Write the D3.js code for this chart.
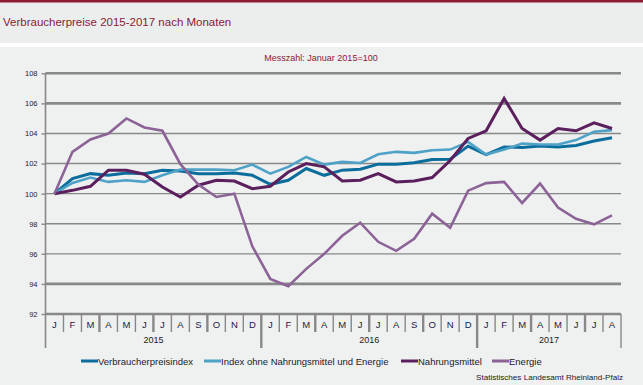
<!DOCTYPE html>
<html><head><meta charset="utf-8">
<script src="https://cdn.jsdelivr.net/npm/d3@7"></script>
<style>
html,body{margin:0;padding:0;background:#fff;}
svg{display:block;font-family:"Liberation Sans",Arial,sans-serif;}
</style></head>
<body>
<svg id="c" width="643" height="385"></svg>
<script>
const monthLabels = ["J","F","M","A","M","J","J","A","S","O","N","D","J","F","M","A","M","J","J","A","S","O","N","D","J","F","M","A","M","J","J","A"];
const years = ["2015","2016","2017"];
const yearMonths = [12, 12, 8];
const yTicks = [92,94,96,98,100,102,104,106,108];
const seriesNames = ["Verbraucherpreisindex","Index ohne Nahrungsmittel und Energie","Nahrungsmittel","Energie"];
const vpi = [100,101.0,101.33,101.22,101.38,101.33,101.56,101.5,101.33,101.33,101.38,101.22,100.62,100.89,101.67,101.22,101.56,101.62,101.96,101.96,102.05,102.27,102.29,103.16,102.6,103.1,103.07,103.16,103.1,103.2,103.5,103.71];
const ohne = [100,100.71,101.07,100.78,100.89,100.78,101.22,101.6,101.6,101.6,101.56,101.93,101.33,101.78,102.44,101.93,102.11,102.04,102.62,102.78,102.71,102.89,102.93,103.44,102.6,102.93,103.33,103.27,103.27,103.56,104.11,104.22];
const nahrung = [100,100.22,100.49,101.56,101.56,101.29,100.44,99.78,100.56,100.89,100.84,100.33,100.49,101.44,102.0,101.78,100.84,100.89,101.33,100.78,100.84,101.07,102.2,103.67,104.18,106.33,104.33,103.56,104.33,104.18,104.71,104.33];
const energie = [100,102.78,103.6,104.0,105.0,104.4,104.18,101.96,100.6,99.78,100.0,96.5,94.33,93.85,95.0,96.0,97.2,98.07,96.8,96.2,97.0,98.67,97.73,100.2,100.7,100.78,99.38,100.67,99.07,98.33,97.96,98.56];

const colors = ["#0b6d9c","#4ea1c7","#5a1f5c","#8c6397"];
const widths = [3,2.6,3,2.6];
const data = [vpi, ohne, nahrung, energie];

const svg = d3.select("#c");
// backgrounds
svg.append("rect").attr("x",0).attr("y",0).attr("width",643).attr("height",385).attr("fill","#fff");
svg.append("rect").attr("x",0).attr("y",0).attr("width",643).attr("height",43).attr("fill","#eceeee");
svg.append("rect").attr("x",0).attr("y",0).attr("width",643).attr("height",2.5).attr("fill","#8b1a35");
svg.append("rect").attr("x",0).attr("y",47).attr("width",643).attr("height",338).attr("fill","#eff0f0");

svg.append("text").attr("x",3).attr("y",26).attr("fill","#8b1a35").attr("font-size",11.5)
  .text("Verbraucherpreise 2015-2017 nach Monaten");
svg.append("text").attr("x",321).attr("y",61).attr("text-anchor","middle").attr("fill","#8b1a35").attr("font-size",9)
  .text("Messzahl: Januar 2015=100");

const x0 = 45.5, x1 = 621;
const y = d3.scaleLinear().domain([92,108]).range([314,73.3]);
const xb = d3.scaleBand().domain(d3.range(monthLabels.length)).range([x0,x1]).padding(0);
const xc = i => xb(i) + xb.bandwidth()/2;

// grid
const thick = new Set([108,106,94,92]);
svg.append("g").selectAll("line").data(yTicks).join("line")
  .attr("x1",x0).attr("x2",x1).attr("y1",d=>y(d)).attr("y2",d=>y(d))
  .attr("stroke","#888").attr("stroke-width",d=>thick.has(d)?2.6:1.4);

// y axis
const ya = svg.append("g").attr("transform",`translate(${x0},0)`)
  .call(d3.axisLeft(y).tickValues(yTicks).tickSize(4).tickPadding(4).tickFormat(d3.format("d")));
ya.select(".domain").remove();
ya.selectAll("line").attr("stroke","#888").attr("stroke-width",1.4);
ya.selectAll("text").attr("font-size",7.5).attr("fill","#1a1a40").attr("font-family","Liberation Sans, Arial, sans-serif");
svg.append("line").attr("x1",x0).attr("x2",x0).attr("y1",73).attr("y2",348).attr("stroke","#888").attr("stroke-width",1.6);

// month separators & labels
const seps = d3.range(1, monthLabels.length+1);
let yearStarts = [0]; yearMonths.reduce((a,b)=>{yearStarts.push(a+b); return a+b;},0);
const yearEnds = new Set(yearStarts.slice(1));
svg.append("g").selectAll("line").data(seps).join("line")
  .attr("x1",i=>xb(i-1)+xb.bandwidth()).attr("x2",i=>xb(i-1)+xb.bandwidth())
  .attr("y1",314).attr("y2",i=>yearEnds.has(i)?348:332)
  .attr("stroke","#888").attr("stroke-width",i=>(i%3===0)?2.4:1.4);
svg.append("g").selectAll("text").data(monthLabels).join("text")
  .attr("x",(d,i)=>xc(i)).attr("y",328).attr("text-anchor","middle")
  .attr("font-size",9.5).attr("fill","#1a1a4a").text(d=>d);
svg.append("g").selectAll("text").data(years).join("text")
  .attr("x",(d,i)=>{const s=yearStarts[i], e=s+yearMonths[i]; return (xb(s)+xb(e-1)+xb.bandwidth())/2;})
  .attr("y",343).attr("text-anchor","middle").attr("font-size",9).attr("fill","#1a1a2a").text(d=>d);

// lines
const line = d3.line().x((d,i)=>xc(i)).y(d=>y(d));
svg.append("g").selectAll("path").data(data).join("path")
  .attr("d",line).attr("fill","none").attr("stroke",(d,i)=>colors[i])
  .attr("stroke-width",(d,i)=>widths[i]).attr("stroke-linejoin","miter");

// legend
const legX = [81,204,401,492];
const lg = svg.append("g").selectAll("g").data(seriesNames).join("g")
  .attr("transform",(d,i)=>`translate(${legX[i]},361)`);
lg.append("line").attr("x1",0).attr("x2",17).attr("y1",0).attr("y2",0)
  .attr("stroke",(d,i)=>colors[i]).attr("stroke-width",3);
lg.append("text").attr("x",17).attr("y",3.5).attr("font-size",9.5).attr("fill","#1a1a2a").text(d=>d);

svg.append("text").attr("x",623).attr("y",380).attr("text-anchor","end").attr("font-size",8)
  .attr("fill","#222").attr("textLength",147).attr("lengthAdjust","spacingAndGlyphs")
  .text("Statistisches Landesamt Rheinland-Pfalz");
</script>
</body></html>
